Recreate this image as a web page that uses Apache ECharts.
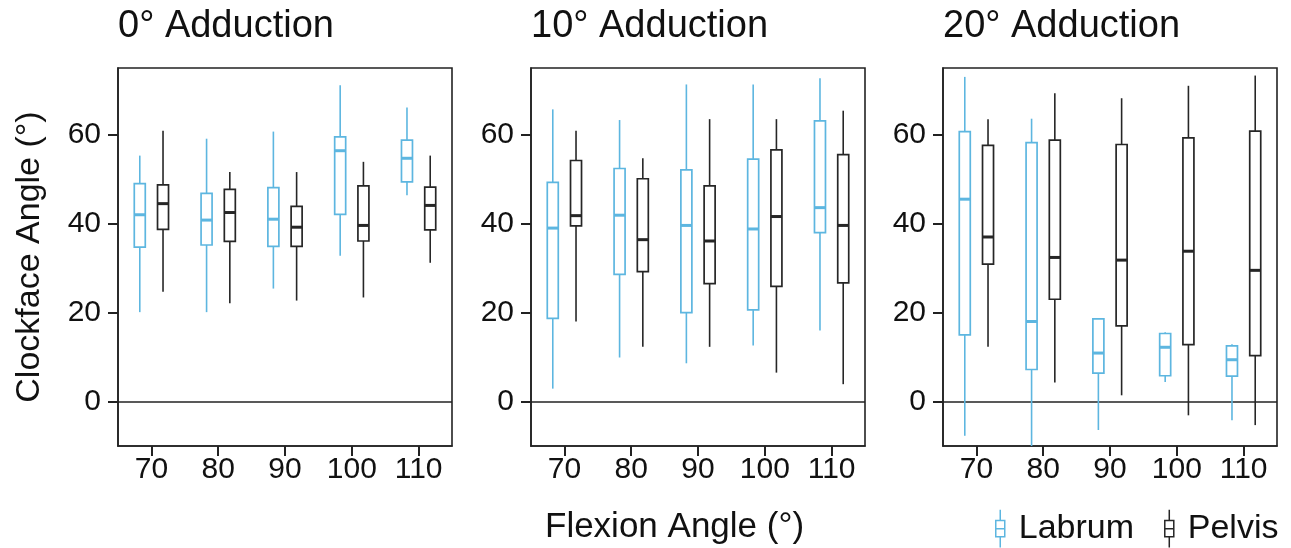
<!DOCTYPE html>
<html>
<head>
<meta charset="utf-8">
<script src="https://cdn.jsdelivr.net/npm/echarts@6/dist/echarts.min.js"></script>
<style>
html,body{margin:0;padding:0;background:#fff;}
#chart{width:1291px;height:548px;}
</style>
</head>
<body>
<div id="chart"></div>
<script>
// ---- data ----
const categories = ['70', '80', '90', '100', '110'];
const panelTitles = ['0° Adduction', '10° Adduction', '20° Adduction'];
const yTicks = [0, 20, 40, 60];
// each row: [low whisker, Q1, median, Q3, high whisker]
const labrum0 = [
  [20.1, 34.7, 42.0, 49.0, 55.3],
  [20.1, 35.2, 40.8, 46.8, 59.1],
  [25.4, 34.9, 41.0, 48.1, 60.7],
  [32.8, 42.1, 56.4, 59.5, 71.1],
  [46.4, 49.4, 54.7, 58.8, 66.1]
];
const pelvis0 = [
  [24.7, 38.7, 44.5, 48.7, 60.9],
  [22.1, 36.0, 42.5, 47.7, 51.6],
  [22.7, 34.9, 39.2, 43.9, 51.6],
  [23.4, 36.1, 39.6, 48.5, 53.9],
  [31.2, 38.6, 44.1, 48.2, 55.3]
];
const labrum10 = [
  [2.9, 18.7, 39.0, 49.3, 65.7],
  [9.9, 28.6, 41.9, 52.4, 63.3],
  [8.6, 20.0, 39.6, 52.1, 71.3],
  [12.6, 20.6, 38.8, 54.5, 71.3],
  [16.0, 38.0, 43.6, 63.1, 72.7]
];
const pelvis10 = [
  [18.0, 39.5, 41.8, 54.2, 60.9],
  [12.3, 29.2, 36.4, 50.1, 54.7],
  [12.3, 26.5, 36.1, 48.5, 63.5],
  [6.5, 25.9, 41.6, 56.6, 63.5],
  [3.9, 26.7, 39.6, 55.5, 65.4]
];
const labrum20 = [
  [-7.7, 15.0, 45.5, 60.7, 73.0],
  [-10.0, 7.2, 18.0, 58.2, 63.6],
  [-6.4, 6.4, 10.9, 18.6, 18.6],
  [4.4, 5.8, 12.2, 15.3, 15.6],
  [-4.2, 5.7, 9.4, 12.5, 12.9]
];
const pelvis20 = [
  [12.3, 30.9, 37.0, 57.6, 63.5],
  [4.3, 23.0, 32.4, 58.8, 69.3],
  [1.4, 17.0, 31.8, 57.8, 68.2],
  [-3.1, 12.8, 33.8, 59.3, 71.0],
  [-5.3, 10.3, 29.5, 60.8, 73.3]
];
const seriesNames = ['Labrum', 'Pelvis'];

// ---- styles ----
const FONT = "'Liberation Sans', Arial, sans-serif";
const COLORS = { Labrum: '#5DB6E0', Pelvis: '#262626' };
const INK = '#111';
const gridLefts = [118, 531, 943];

function makeRender(side, color) {
  return function (params, api) {
    const xi = api.value(0);
    const band = api.size([1, 0])[0];
    const off = side * band * 0.174;
    const half = 5.5;
    const pLow = api.coord([xi, api.value(1)]);
    const pQ1 = api.coord([xi, api.value(2)]);
    const pMed = api.coord([xi, api.value(3)]);
    const pQ3 = api.coord([xi, api.value(4)]);
    const pHigh = api.coord([xi, api.value(5)]);
    const cx = pMed[0] + off;
    const thin = { stroke: color, lineWidth: 1.6, fill: null };
    return {
      type: 'group',
      children: [
        { type: 'line', shape: { x1: cx, y1: pHigh[1], x2: cx, y2: pQ3[1] }, style: thin },
        { type: 'line', shape: { x1: cx, y1: pQ1[1], x2: cx, y2: pLow[1] }, style: thin },
        { type: 'rect', shape: { x: cx - half, y: pQ3[1], width: half * 2, height: pQ1[1] - pQ3[1] },
          style: { stroke: color, lineWidth: 1.7, fill: '#fff' } },
        { type: 'line', shape: { x1: cx - half, y1: pMed[1], x2: cx + half, y2: pMed[1] },
          style: { stroke: color, lineWidth: 3 } }
      ]
    };
  };
}

const panelData = [[labrum0, pelvis0], [labrum10, pelvis10], [labrum20, pelvis20]];

const grids = [], xAxes = [], yAxes = [], series = [], titles = [];
panelData.forEach((pair, p) => {
  grids.push({ left: gridLefts[p], top: 68, width: 334, height: 378, show: true,
    borderColor: '#222', borderWidth: 1.6, backgroundColor: 'transparent' });
  xAxes.push({
    type: 'category', gridIndex: p, data: categories, boundaryGap: true,
    axisLine: { show: true, onZero: false, lineStyle: { color: '#222', width: 1.6 } },
    axisTick: { show: true, alignWithLabel: true, length: 10, lineStyle: { color: '#222', width: 2 } },
    axisLabel: { color: INK, fontSize: 30, fontFamily: FONT, margin: 9 },
    splitLine: { show: false }
  });
  const y = {
    type: 'value', gridIndex: p, min: -10, max: 75, interval: 10,
    axisLine: { show: true, onZero: false, lineStyle: { color: '#222', width: 1.6 } },
    axisTick: { show: true, length: 10, customValues: yTicks, lineStyle: { color: '#222', width: 2 } },
    axisLabel: { color: INK, fontSize: 30, fontFamily: FONT, margin: 17, customValues: yTicks },
    splitLine: { show: false }
  };
  if (p === 0) {
    y.name = 'Clockface Angle (°)';
    y.nameLocation = 'middle';
    y.nameRotate = 90;
    y.nameGap = 71;
    y.nameTextStyle = { color: INK, fontSize: 34, fontFamily: FONT };
  }
  yAxes.push(y);
  titles.push({ text: panelTitles[p], left: gridLefts[p], top: 8, padding: 0,
    textStyle: { color: INK, fontSize: 38, fontWeight: 'normal', fontFamily: FONT } });
  pair.forEach((arr, s) => {
    const name = seriesNames[s];
    const ser = {
      type: 'custom', name: name, xAxisIndex: p, yAxisIndex: p,
      clip: true,
      itemStyle: { color: COLORS[name] },
      encode: { x: 0, y: [1, 2, 3, 4, 5] },
      renderItem: makeRender(s === 0 ? -1 : 1, COLORS[name]),
      data: arr.map((d, i) => [i].concat(d)),
      z: 3
    };
    if (s === 1) {
      ser.markLine = {
        silent: true, symbol: 'none', label: { show: false },
        lineStyle: { color: '#222', width: 1.6, type: 'solid' },
        data: [{ yAxis: 0 }], z: 1
      };
    }
    series.push(ser);
  });
});

titles.push({ text: 'Flexion Angle (°)', left: 545, top: 510, padding: 0,
  textStyle: { color: INK, fontSize: 35, fontWeight: 'normal', fontFamily: FONT } });

const iconPath = 'path://M5,0L5,12M0,12L10,12L10,30L0,30ZM0,21L10,21M5,30L5,42';

const chart = echarts.init(document.getElementById('chart'), null, { renderer: 'canvas' });
chart.setOption({
  backgroundColor: '#fff',
  animation: false,
  title: titles,
  grid: grids,
  xAxis: xAxes,
  yAxis: yAxes,
  legend: {
    left: 990, top: 504, itemWidth: 9, itemHeight: 44, itemGap: 30,
    textStyle: { color: INK, fontSize: 34, fontFamily: FONT, padding: [0, 0, 0, 9] },
    data: seriesNames.map(n => ({
      name: n, icon: iconPath,
      itemStyle: { color: 'transparent', borderColor: COLORS[n], borderWidth: 1.5 }
    }))
  },
  series: series
});
</script>
</body>
</html>
